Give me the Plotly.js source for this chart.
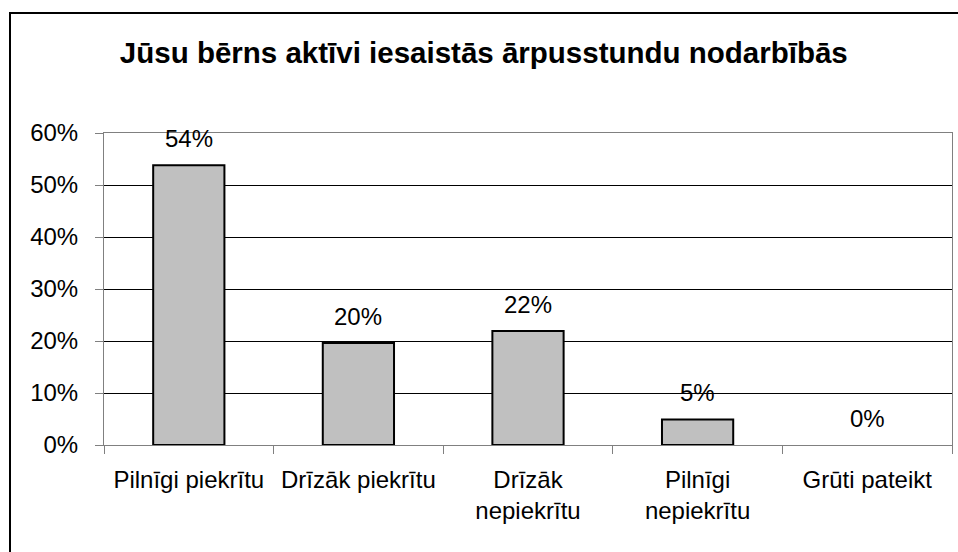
<!DOCTYPE html>
<html>
<head>
<meta charset="utf-8">
<script src="https://cdn.plot.ly/plotly-3.0.1.min.js"></script>
<style>html,body{margin:0;padding:0;background:#fff;}#chart{width:958px;height:552px;}</style>
</head>
<body>
<div id="chart"></div>
<script>
const chartTitle = "Jūsu bērns aktīvi iesaistās ārpusstundu nodarbībās";
const categories = ["Pilnīgi piekrītu", "Drīzāk piekrītu", "Drīzāk<br>nepiekrītu", "Pilnīgi<br>nepiekrītu", "Grūti pateikt"];
const values = [53.8, 19.6, 21.9, 4.9, 0];
const yTicks = [0, 10, 20, 30, 40, 50, 60];

const FONT = "Liberation Sans, Arial, sans-serif";

const trace = {
  type: "bar",
  x: categories,
  y: values,
  marker: { color: "#C0C0C0", line: { color: "#000000", width: values.map(v => v > 0 ? 2 : 0) } },
  hoverinfo: "skip"
};

const annotations = categories.map((c, i) => ({
  x: c, y: values[i], xref: "x", yref: "y",
  text: Math.round(values[i]) + "%",
  showarrow: false, yanchor: "middle", yshift: 27,
  font: { family: FONT, size: 24, color: "#000" }
}));

const layout = {
  width: 958, height: 552,
  margin: { l: 104, r: 6, t: 133, b: 107, pad: 0 },
  paper_bgcolor: "#fff", plot_bgcolor: "#fff",
  font: { family: FONT, color: "#000" },
  title: {
    text: "<b>" + chartTitle + "</b>",
    font: { family: FONT, size: 29.5, color: "#000" },
    x: 0.505, xanchor: "center", xref: "container",
    y: 1 - 53 / 552, yanchor: "middle", yref: "container"
  },
  showlegend: false,
  bargap: 0.58,
  xaxis: {
    type: "category",
    showline: true, linecolor: "#808080", linewidth: 1, mirror: true,
    ticks: "outside", tickson: "boundaries", ticklen: 8, tickcolor: "#808080",
    tickfont: { family: FONT, size: 24, color: "#000" },
    ticklabelstandoff: 13,
    showgrid: false, fixedrange: true
  },
  yaxis: {
    range: [0, 60], tickvals: yTicks, ticktext: yTicks.map(v => v + "%"),
    showline: true, linecolor: "#808080", linewidth: 1, mirror: true,
    ticks: "outside", ticklen: 8, tickcolor: "#808080",
    tickfont: { family: FONT, size: 24, color: "#000" },
    ticklabelstandoff: 12,
    showgrid: true, gridcolor: "#000", gridwidth: 1,
    zeroline: false, fixedrange: true
  },
  annotations: annotations,
  shapes: [{
    type: "rect", xref: "paper", yref: "paper",
    x0: (10 - 104) / 848, x1: 1.2, y0: -0.6, y1: (445 - 13) / 312,
    line: { color: "#000", width: 2 }, fillcolor: "rgba(0,0,0,0)", layer: "below"
  }]
};

Plotly.newPlot("chart", [trace], layout, { staticPlot: true, displayModeBar: false });
</script>
</body>
</html>
